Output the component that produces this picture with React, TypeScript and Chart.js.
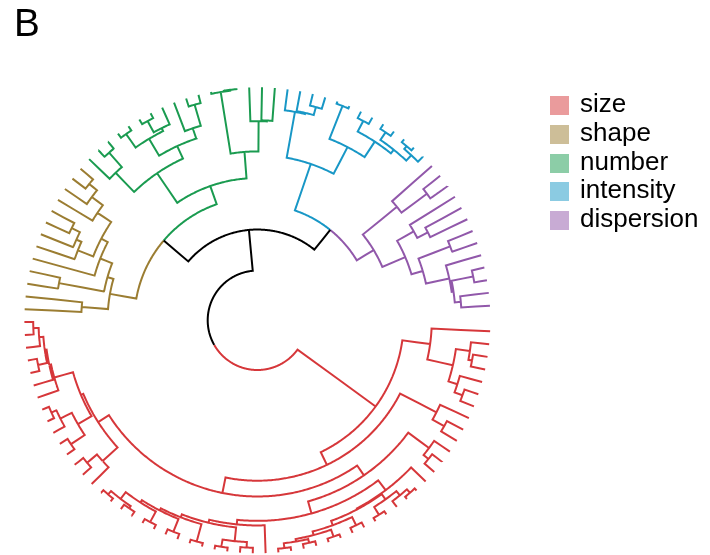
import React, { useEffect, useRef } from "react";
import { Chart, registerables } from "chart.js";

Chart.register(...registerables);

// A tree is a leaf (0) or a merge: [height, left subtree, right subtree]
type Tree = 0 | [number, Tree, Tree];

const clusterLabels = ["size", "shape", "number", "intensity", "dispersion"];
const clusterLineColors = ["#D6373A", "#9B7D32", "#1A9B50", "#1897C6", "#9158AA"];
const clusterLegendColors = ["#EA9B9C", "#CDBE98", "#8CCDA7", "#8BCBE2", "#C8ABD4"];
const linkColor = "#000000";

// merge heights above the five clusters (root = 1)
const rootHeight = 1.0;
const upperHeight = 0.776;
const dispersionIntensityHeight = 0.638;
const numberShapeHeight = 0.6;

const dispersionTree: Tree = [0.53,
  [0.394,
    [0.33, [0.2, [0.19, [0.157, 0, 0], [0.07, 0, 0]], 0], [0.145, 0, 0]],
    [0.29, [0.225, 0, 0], 0]],
  [0.29, [0.117, 0, 0], 0]];

const intensityTree: Tree = [0.37,
  [0.206,
    [0.105, [0.08, [0.04, 0, [0.02, 0, 0]], [0.03, 0, 0]], [0.04, 0, 0]],
    [0.013, 0, 0]],
  [0.116, [0.11, [0.065, 0, 0], 0], 0]];

const numberTree: Tree = [0.495,
  [0.35, [0.185, [0.18, 0, 0], 0], [0.01, [0.005, 0, 0], 0]],
  [0.3,
    [0.225,
      [0.166, [0.046, 0, 0], 0],
      [0.118, [0.1, 0, [0.03, 0, 0]], [0.028, 0, 0]]],
    [0.155, [0.05, 0, 0], 0]]];

const shapeTree: Tree = [0.454,
  [0.42,
    [0.35,
      [0.31,
        [0.22, [0.145, [0.09, 0, 0], 0], 0],
        [0.22, [0.19, [0.14, 0, 0], 0], 0]],
      0],
    [0.17, 0, 0]],
  [0.31, 0, 0]];

const sizeTree: Tree = [0.473,
  [0.396,
    [0.31,
      [0.24,
        [0.226,
          [0.12, [0.11, [0.1, [0.077, [0.048, 0, 0], 0], [0.05, 0, 0]], 0], 0],
          [0.14, [0.07, [0.04, 0, 0], 0], [0.05, 0, 0]]],
        [0.13, [0.06, 0, 0], 0]],
      [0.245,
        [0.177,
          [0.152,
            [0.135,
              [0.118,
                [0.105,
                  [0.09, [0.044, [0.02, 0, 0], [0.03, 0, 0]], [0.025, 0, 0]],
                  [0.03, 0, 0]],
                [0.02, 0, 0]],
              [0.06, [0.02, 0, 0], [0.03, 0, 0]]],
            0],
          [0.11,
            [0.105,
              [0.08, [0.06, [0.046, [0.02, 0, 0], [0.025, 0, 0]], [0.02, 0, 0]], [0.03, 0, 0]],
              [0.07, [0.02, 0, 0], [0.04, 0, [0.015, 0, 0]]]],
            0]],
        [0.104, [0.07, 0, 0], 0]]],
    [0.173, [0.1, 0, 0], 0]],
  [0.32,
    [0.177, [0.126, [0.08, 0, 0], 0], [0.1, [0.08, 0, 0], 0]],
    0]];

// layout (pixels)
const W = 710;
const H = 555;
const CX = 257.4;
const CY = 320.3;
const LEAF_R = 233;
const ROOT_R_FRAC = 49.7 / 233;
const START_ANGLE = 3.6;

interface DNode {
  h: number;
  color: string;
  children: DNode[];
  angle: number;
}

function build(t: Tree, color: string): DNode {
  if (t === 0) return { h: 0, color, children: [], angle: 0 };
  return { h: t[0], color, children: [build(t[1], color), build(t[2], color)], angle: 0 };
}

function radius(h: number) {
  return 1 - h * (1 - ROOT_R_FRAC);
}

function buildDatasets() {
  const [cSize, cShape, cNumber, cIntensity, cDispersion] = clusterLineColors;
  const root: DNode = {
    h: rootHeight, color: linkColor, angle: 0,
    children: [
      {
        h: upperHeight, color: linkColor, angle: 0,
        children: [
          { h: dispersionIntensityHeight, color: linkColor, angle: 0,
            children: [build(dispersionTree, cDispersion), build(intensityTree, cIntensity)] },
          { h: numberShapeHeight, color: linkColor, angle: 0,
            children: [build(numberTree, cNumber), build(shapeTree, cShape)] },
        ],
      },
      build(sizeTree, cSize),
    ],
  };
  const leaves: DNode[] = [];
  const collect = (n: DNode) => {
    if (n.children.length === 0) leaves.push(n);
    else n.children.forEach(collect);
  };
  collect(root);
  const step = 360 / (leaves.length + 1);
  leaves.forEach((l, i) => { l.angle = START_ANGLE + i * step; });
  const setAngles = (n: DNode): number => {
    if (n.children.length === 0) return n.angle;
    const a = n.children.map(setAngles);
    n.angle = a.reduce((s, v) => s + v, 0) / a.length;
    return n.angle;
  };
  setAngles(root);

  const byColor: Record<string, { x: number; y: number }[]> = {};
  const pt = (r: number, deg: number) => {
    const t = (deg * Math.PI) / 180;
    return { x: r * Math.cos(t), y: r * Math.sin(t) };
  };
  const walk = (n: DNode) => {
    const rn = radius(n.h);
    for (const c of n.children) {
      const arr = (byColor[c.color] = byColor[c.color] || []);
      const a0 = n.angle;
      const a1 = c.angle;
      const steps = Math.max(1, Math.ceil(Math.abs(a1 - a0) / 0.5));
      for (let k = 0; k <= steps; k++) arr.push(pt(rn, a0 + ((a1 - a0) * k) / steps));
      arr.push(pt(radius(c.h), a1));
      arr.push({ x: NaN, y: NaN });
      walk(c);
    }
  };
  walk(root);
  return Object.keys(byColor).map((col) => ({
    data: byColor[col],
    showLine: true,
    borderColor: col,
    backgroundColor: col,
    borderWidth: 2,
    borderJoinStyle: "miter",
    pointRadius: 0,
    fill: false,
    // a tiny tension keeps Chart.js off its x-aggregating fast path, which breaks circular arcs
    tension: 0.000001,
    spanGaps: false,
  }));
}

export default function App() {
  const ref = useRef<HTMLCanvasElement>(null);
  useEffect(() => {
    if (!ref.current) return;
    const chart = new Chart(ref.current, {
      type: "scatter",
      data: { datasets: buildDatasets() as any },
      options: {
        animation: false,
        responsive: false,
        events: [],
        layout: { padding: 0 },
        plugins: { legend: { display: false }, tooltip: { enabled: false }, title: { display: false } },
        scales: {
          x: { type: "linear", display: false, min: -CX / LEAF_R, max: (W - CX) / LEAF_R },
          y: { type: "linear", display: false, min: -(H - CY) / LEAF_R, max: CY / LEAF_R },
        },
      },
    });
    return () => chart.destroy();
  }, []);

  const rowCenters = [105.8, 134.4, 163, 191.7, 220.4];
  return (
    <div style={{ position: "absolute", left: 0, top: 0, width: W, height: H, background: "#fff",
      fontFamily: "'Liberation Sans', Arial, Helvetica, sans-serif", color: "#000" }}>
      <canvas ref={ref} width={W} height={H} style={{ position: "absolute", left: 0, top: 0, width: W, height: H }} />
      <div style={{ position: "absolute", left: 14, top: 3, fontSize: 38.7, lineHeight: "39px" }}>B</div>
      {clusterLabels.map((lab, i) => (
        <React.Fragment key={lab}>
          <div style={{ position: "absolute", left: 550, top: rowCenters[i] - 9.5, width: 19, height: 19,
            background: clusterLegendColors[i] }} />
          <div style={{ position: "absolute", left: 580, top: rowCenters[i] - 15.5, fontSize: 26,
            lineHeight: "26px", whiteSpace: "nowrap" }}>{lab}</div>
        </React.Fragment>
      ))}
    </div>
  );
}
